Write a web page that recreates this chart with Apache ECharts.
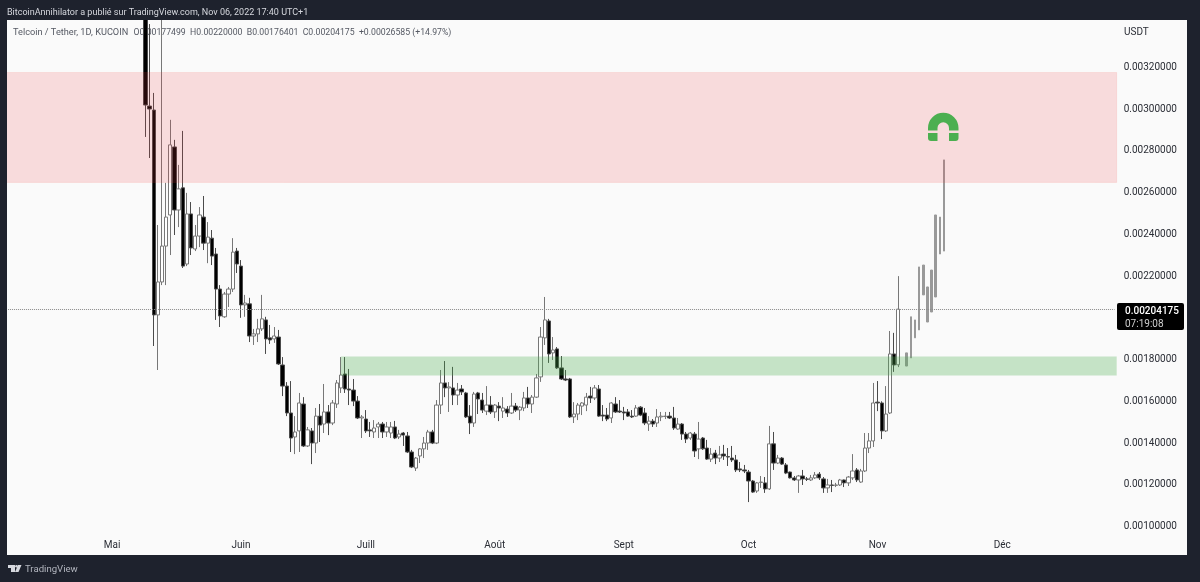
<!DOCTYPE html>
<html><head><meta charset="utf-8">
<style>html,body{margin:0;padding:0;background:#fafafa}#c{width:1200px;height:582px}</style>
<script src="https://cdn.jsdelivr.net/npm/echarts@6/dist/echarts.min.js"></script>
</head><body><div id="c"></div>
<script>
// Prices are in micro-USDT (1e-6)
const UNIT = 1e-6;
const FIRST_INDEX = 33;
const opens = [3700,3015,2996,2014,2172,2344,2493,2819,2517,2623,2258,2498,2330,2392,2483,2358,2382,2306,2138,2005,2114,2138,2320,2248,2062,2067,1913,1923,1947,1990,1904,1899,1908,1774,1673,1544,1429,1458,1587,1386,1458,1400,1529,1491,1549,1496,1587,1664,1731,1659,1654,1601,1520,1515,1463,1453,1477,1491,1453,1448,1477,1429,1448,1434,1357,1280,1338,1372,1400,1453,1400,1582,1688,1664,1664,1630,1659,1640,1529,1496,1640,1606,1553,1582,1549,1577,1553,1563,1544,1577,1558,1568,1616,1587,1620,1717,1904,1985,1832,1851,1760,1707,1707,1525,1539,1577,1582,1625,1616,1659,1534,1534,1520,1587,1553,1549,1549,1529,1529,1572,1544,1491,1505,1496,1525,1527,1529,1520,1467,1491,1443,1424,1443,1372,1424,1376,1323,1352,1328,1347,1335,1328,1319,1276,1271,1261,1218,1170,1211,1209,1180,1396,1304,1328,1295,1261,1233,1223,1242,1228,1223,1233,1251,1228,1185,1199,1197,1199,1223,1209,1233,1271,1213,1266,1376,1410,1596,1592,1458,1544,1827,1775];
const closes = [3020,3001,2014,2172,2344,2483,2829,2517,2618,2248,2498,2335,2392,2493,2358,2387,2296,2138,2009,2114,2138,2315,2258,2062,2071,1913,1923,1947,1995,1899,1894,1913,1779,1673,1544,1424,1453,1592,1386,1463,1400,1529,1486,1549,1496,1592,1688,1726,1659,1654,1601,1520,1525,1458,1458,1472,1491,1453,1477,1477,1424,1443,1438,1357,1285,1328,1372,1400,1453,1400,1582,1688,1664,1669,1630,1654,1645,1525,1496,1635,1611,1558,1582,1549,1582,1568,1568,1544,1577,1558,1572,1616,1587,1620,1712,1908,1990,1827,1846,1760,1707,1702,1525,1539,1582,1592,1620,1616,1664,1529,1529,1515,1592,1549,1549,1544,1529,1525,1568,1534,1496,1505,1491,1525,1529,1529,1520,1472,1491,1443,1419,1448,1362,1419,1372,1323,1347,1328,1343,1338,1333,1319,1271,1271,1266,1218,1165,1209,1213,1180,1396,1304,1328,1299,1256,1233,1223,1242,1228,1226,1233,1247,1233,1185,1199,1197,1199,1223,1209,1237,1266,1223,1266,1376,1410,1592,1592,1458,1539,1827,1774,2041.75];
const lows = [2867,2766,1865,1750,2157,2157,2301,2397,2435,2239,2248,2301,2320,2339,2325,2262,2253,1990,1956,2000,2052,2124,2215,2000,2005,1884,1870,1884,1937,1827,1875,1880,1774,1625,1529,1357,1347,1357,1381,1381,1299,1352,1405,1448,1438,1486,1568,1640,1640,1582,1577,1515,1424,1448,1429,1424,1424,1424,1429,1424,1419,1419,1386,1352,1280,1266,1304,1328,1367,1395,1395,1539,1620,1549,1582,1582,1630,1520,1443,1477,1539,1544,1534,1539,1520,1505,1520,1525,1539,1549,1510,1553,1568,1544,1616,1693,1870,1784,1798,1755,1702,1697,1520,1496,1510,1534,1553,1592,1606,1525,1505,1505,1496,1544,1544,1510,1525,1520,1525,1529,1486,1458,1477,1477,1505,1515,1515,1463,1463,1415,1400,1415,1333,1323,1367,1319,1309,1299,1309,1319,1290,1309,1261,1261,1256,1117,1161,1161,1185,1161,1175,1271,1299,1295,1251,1230,1218,1161,1199,1218,1218,1228,1223,1161,1161,1165,1189,1194,1189,1194,1223,1213,1209,1261,1352,1381,1553,1419,1453,1539,1741,1764];
const highs = [3800,3408,3078,2445,3700,2647,2949,2853,2733,2896,2599,2555,2445,2531,2584,2459,2421,2335,2157,2124,2148,2382,2335,2277,2110,2096,1947,1995,2110,2005,1966,1956,1942,1812,1692,1697,1529,1640,1620,1477,1472,1568,1587,1683,1582,1606,1702,1812,1812,1755,1707,1625,1534,1558,1501,1510,1501,1501,1501,1501,1506,1463,1453,1453,1367,1333,1376,1429,1463,1463,1606,1750,1793,1692,1765,1688,1678,1645,1582,1645,1645,1640,1673,1625,1587,1596,1620,1577,1640,1592,1577,1645,1669,1630,1731,1956,2100,1995,1908,1860,1817,1750,1712,1596,1592,1596,1640,1669,1678,1678,1582,1568,1596,1620,1606,1573,1563,1558,1582,1577,1568,1529,1515,1563,1549,1549,1549,1573,1520,1496,1453,1453,1453,1501,1429,1415,1376,1367,1386,1391,1376,1386,1343,1309,1295,1271,1223,1213,1242,1237,1482,1453,1343,1333,1304,1263,1242,1247,1271,1237,1247,1261,1261,1237,1228,1223,1209,1228,1225,1242,1347,1280,1276,1448,1448,1688,1697,1600,1673,1937,1928,2200];
// Grey projected bars after the last real candle
const GHOST_FIRST_INDEX = 216;
const ghostLows  = [1769,1808,1904,1942,2110,1980,2028,2100,2306,2320];
const ghostHighs = [1832,2005,1990,2244,2253,2148,2229,2493,2483,2757];
const lastPrice = 2041.75;
const resistanceZone = [2649,3176];
const supportZone = [1724,1815];
const supportStartIndex = 80;
const yTicks = [1000,1200,1400,1600,1800,2200,2400,2600,2800,3000,3200];
const monthNames = {'05':'Mai','06':'Juin','07':'Juill','08':'Août','09':'Sept','10':'Oct','11':'Nov','12':'Déc'};
const headerText = 'BitcoinAnnihilator a publié sur TradingView.com, Nov 06, 2022 17:40 UTC+1';
const legendName = 'Telcoin / Tether, 1D, KUCOIN';
const legendValues = 'O0.00177499  H0.00220000  B0.00176401  C0.00204175  +0.00026585 (+14.97%)';

const BAR_COUNT = 267;
const categories = [];
for (let i = 0; i < BAR_COUNT; i++) {
  const d = new Date(Date.UTC(2022, 3, 6 + i));
  categories.push(d.toISOString().slice(0, 10));
}
const candleData = categories.map((c, i) => {
  const k = i - FIRST_INDEX;
  if (k < 0 || k >= opens.length) return ['-', '-', '-', '-'];
  return [opens[k] * UNIT, closes[k] * UNIT, lows[k] * UNIT, highs[k] * UNIT];
});
const ghostData = categories.map((c, i) => {
  const k = i - GHOST_FIRST_INDEX;
  if (k < 0 || k >= ghostLows.length) return ['-', '-', '-', '-'];
  return [ghostLows[k] * UNIT, ghostHighs[k] * UNIT, ghostLows[k] * UNIT, ghostHighs[k] * UNIT];
});

const FONT = 'Roboto, sans-serif';
const FRAME = '#1e222d';
const LOGO = '#d6d8de';
const GREEN = '#4caf50';
const chart = echarts.init(document.getElementById('c'), null, {renderer: 'canvas'});
chart.setOption({
  animation: false,
  backgroundColor: '#fafafa',
  grid: {left: 6, right: 83.3, top: 20, bottom: 50},
  xAxis: {
    type: 'category', data: categories, boundaryGap: true,
    axisLine: {show: false}, axisTick: {show: false}, splitLine: {show: false},
    axisLabel: {
      interval: (i, v) => v.endsWith('-01') && monthNames[v.slice(5, 7)] !== undefined,
      formatter: v => monthNames[v.slice(5, 7)] || '',
      color: '#2a2d35', fontFamily: FONT, fontSize: 10, margin: 8
    }
  },
  yAxis: {
    type: 'value', position: 'right', scale: true,
    min: 973.6 * UNIT, max: 3427.5 * UNIT,
    axisLine: {show: false}, axisTick: {show: false}, splitLine: {show: false},
    axisLabel: {
      customValues: yTicks.map(v => v * UNIT),
      formatter: v => v.toFixed(8),
      color: '#2a2d35', fontFamily: FONT, fontSize: 10, margin: 7, padding: [4, 0, 0, 0]
    }
  },
  series: [
    {
      type: 'candlestick', name: 'TEL/USDT', data: candleData, barWidth: 3.8, z: 3,
      itemStyle: {color: '#ffffff', color0: '#000000', borderColor: '#777777', borderColor0: '#4a4a4a', borderWidth: 1},
      markLine: {
        silent: true, symbol: ['none', 'none'], label: {show: false}, z: 5,
        lineStyle: {color: '#8a8a8a', type: 'dotted', width: 1},
        data: [[
          {xAxis: categories[0], yAxis: lastPrice * UNIT},
          {xAxis: categories[BAR_COUNT - 1], yAxis: lastPrice * UNIT}
        ]]
      }
    },
    {
      type: 'candlestick', name: 'Projection', data: ghostData, barWidth: 2, z: 3,
      itemStyle: {color: '#999999', color0: '#999999', borderColor: '#999999', borderColor0: '#999999', borderWidth: 1},
      markArea: {
        silent: true, z: 4,
        data: [
          [{yAxis: resistanceZone[1] * UNIT, itemStyle: {color: 'rgba(245,60,70,0.16)', borderColor: 'rgba(244,67,54,0.1)', borderWidth: 1}}, {yAxis: resistanceZone[0] * UNIT}],
          [{xAxis: categories[supportStartIndex], yAxis: supportZone[1] * UNIT, itemStyle: {color: 'rgba(76,175,80,0.3)'}}, {yAxis: supportZone[0] * UNIT}]
        ]
      }
    }
  ],
  graphic: [
    {type: 'rect', z: 100, shape: {x: 0, y: 0, width: 1200, height: 20}, style: {fill: FRAME}},
    {type: 'rect', z: 100, shape: {x: 0, y: 0, width: 7, height: 582}, style: {fill: FRAME}},
    {type: 'rect', z: 100, shape: {x: 1187, y: 0, width: 13, height: 582}, style: {fill: FRAME}},
    {type: 'rect', z: 100, shape: {x: 0, y: 555, width: 1200, height: 27}, style: {fill: FRAME}},
    {type: 'text', z: 101, x: 7, y: 12.5, style: {text: headerText, fill: '#d6d8de', font: '9px ' + FONT, textVerticalAlign: 'middle'}},
    {type: 'text', z: 1, x: 13, y: 32.5, style: {text: legendName, fill: '#555963', font: '9.2px ' + FONT, textVerticalAlign: 'middle'}},
    {type: 'text', z: 1, x: 133.5, y: 32.5, style: {text: legendValues, fill: '#555963', font: '8.7px ' + FONT, textVerticalAlign: 'middle'}},
    {type: 'text', z: 1, x: 1124, y: 32, style: {text: 'USDT', fill: '#2a2d35', font: '10px ' + FONT, textVerticalAlign: 'middle'}},
    {type: 'rect', z: 90, shape: {x: 1117, y: 303, width: 67, height: 27, r: 2}, style: {fill: '#000000'}},
    {type: 'text', z: 91, x: 1125, y: 311.5, style: {text: '0.00204175', fill: '#ffffff', font: '500 10px ' + FONT, textVerticalAlign: 'middle'}},
    {type: 'text', z: 91, x: 1125, y: 324, style: {text: '07:19:08', fill: '#d0d0d0', font: '10px ' + FONT, textVerticalAlign: 'middle'}},
    // Magnet annotation
    {type: 'sector', z: 80, shape: {cx: 943.25, cy: 128, r: 15.25, r0: 5.75, startAngle: Math.PI, endAngle: 2 * Math.PI, clockwise: true}, style: {fill: GREEN}},
    {type: 'rect', z: 80, shape: {x: 928, y: 128, width: 9.5, height: 2.5}, style: {fill: GREEN}},
    {type: 'rect', z: 80, shape: {x: 949, y: 128, width: 9.5, height: 2.5}, style: {fill: GREEN}},
    {type: 'rect', z: 80, shape: {x: 928, y: 133, width: 9.5, height: 8, r: [0, 0, 0, 3]}, style: {fill: GREEN}},
    {type: 'rect', z: 80, shape: {x: 949, y: 133, width: 9.5, height: 8, r: [0, 0, 3, 0]}, style: {fill: GREEN}},
    // TradingView logo
    {type: 'polygon', z: 101, shape: {points: [[8, 565], [15, 565], [15, 572], [11, 572], [11, 568], [8, 568]]}, style: {fill: LOGO}},
    {type: 'polygon', z: 101, shape: {points: [[18, 565], [21.5, 565], [18.5, 572], [15, 572]]}, style: {fill: LOGO}},
    {type: 'circle', z: 101, shape: {cx: 16.5, cy: 566.3, r: 1.3}, style: {fill: LOGO}},
    {type: 'text', z: 101, x: 25, y: 570, style: {text: 'TradingView', fill: '#b2b5be', font: '9.6px ' + FONT, textVerticalAlign: 'middle'}}
  ]
});
</script></body></html>
